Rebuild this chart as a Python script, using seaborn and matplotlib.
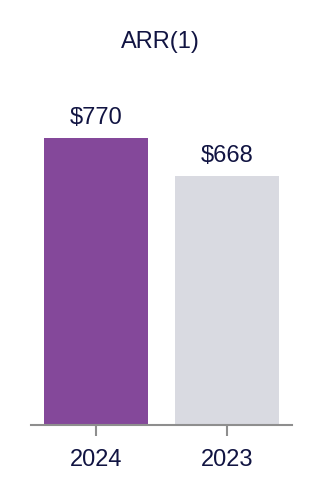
import matplotlib
matplotlib.use("Agg")
import matplotlib.pyplot as plt
import seaborn as sns
import pandas as pd

categories = ["2024", "2023"]
values = [770, 668]
labels = ["$770", "$668"]
title = "ARR(1)"

bar_colors = ["#84489a", "#d9dae1"]
text_color = "#111442"
axis_color = "#8e8e8e"

sns.set_theme(style="white")
plt.rcParams['font.family'] = ['Liberation Sans', 'DejaVu Sans']

df = pd.DataFrame({"year": categories, "arr": values})

fig = plt.figure(figsize=(3.22, 4.98), dpi=100)
ax = fig.add_axes([30.7 / 322, (498 - 425) / 498, 261.6 / 322, 325 / 498])

sns.barplot(data=df, x="year", y="arr", hue="year", palette=bar_colors,
            order=categories, hue_order=categories, width=0.795,
            legend=False, ax=ax, saturation=1, linewidth=0)

ax.set_xlim(-0.5, 1.5)
ax.set_ylim(0, 325 / (287.3 / 770))

for i, (v, lab) in enumerate(zip(values, labels)):
    ax.annotate(lab, (i, v), xytext=(0, 14), textcoords="offset pixels",
                ha="center", va="baseline", fontsize=17, color=text_color)

for s in ["top", "right", "left"]:
    ax.spines[s].set_visible(False)
ax.spines["bottom"].set_color(axis_color)
ax.spines["bottom"].set_linewidth(1.5)
ax.set_yticks([])
ax.set_xlabel("")
ax.set_ylabel("")
ax.tick_params(axis="x", bottom=True, length=8, width=1.5, color=axis_color,
               pad=9, labelsize=17, labelcolor=text_color)

fig.text(160 / 322, 1 - 48 / 498, title, ha="center", va="baseline",
         fontsize=17, color=text_color)

fig.savefig("out.png", dpi=100)
